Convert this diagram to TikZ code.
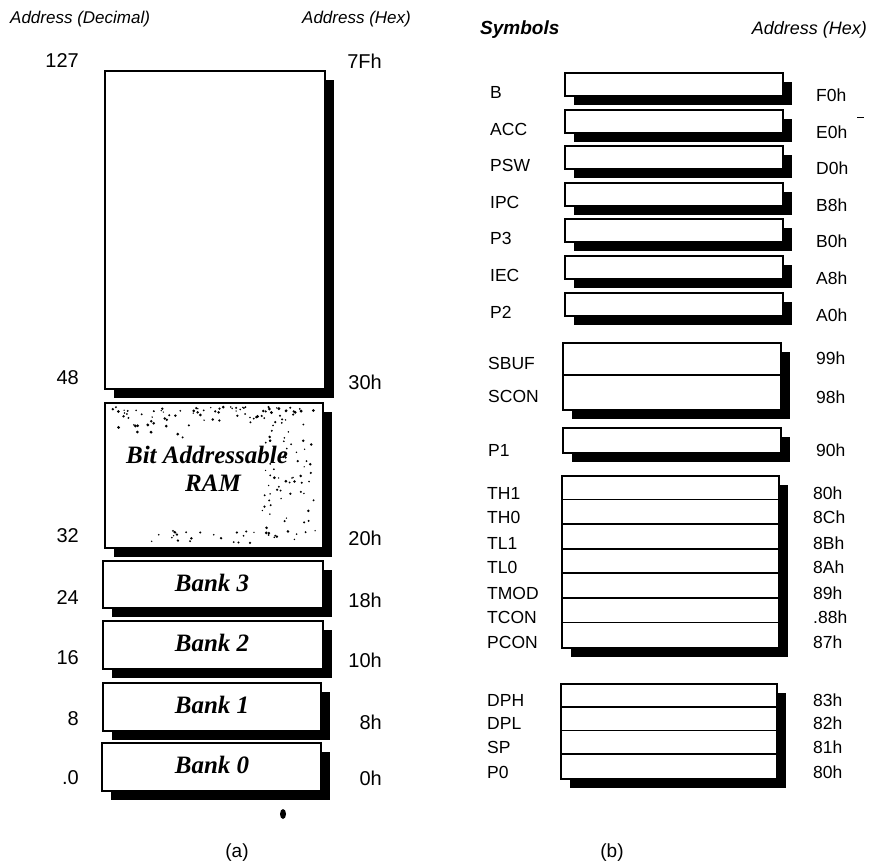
\documentclass[tikz,border=0pt]{standalone}
\usepackage{fontspec}
\setmainfont{Liberation Sans}
\newfontfamily\bankfont{Liberation Serif}
\usetikzlibrary{shadows}
\begin{document}
\begin{tikzpicture}[x=1pt,y=-1pt,
  membox/.style={draw=black, line width=1.7pt, fill=white, rectangle, inner sep=0pt, anchor=north west,
    drop shadow={shadow xshift=9pt, shadow yshift=-9pt, fill=black, opacity=1, draw=none}},
  num/.style={anchor=east, inner sep=0pt, font=\fontsize{20}{22}\selectfont},
  hexl/.style={anchor=east, inner sep=0pt, font=\fontsize{20}{22}\selectfont},
  sym/.style={anchor=west, inner sep=0pt, font=\fontsize{17.5}{19}\selectfont},
  hexr/.style={anchor=west, inner sep=0pt, font=\fontsize{17.5}{19}\selectfont},
  head/.style={inner sep=0pt, font=\fontsize{17}{19}\selectfont\itshape},
  bank/.style={inner sep=0pt, font=\bankfont\fontsize{25}{27}\selectfont\bfseries\itshape},
  divline/.style={line width=1.7pt},
  captext/.style={inner sep=0pt, font=\fontsize{19}{21}\selectfont},
  speck/.style={fill=black}
]
\useasboundingbox[fill=white] (0,0) rectangle (871,867);

% headers
\node[head, anchor=west] (hdec) at (10,19) {Address (Decimal)};
\node[head, anchor=west] (hhexl) at (302,19) {Address (Hex)};
\node[head, anchor=west, font=\fontsize{19}{21}\selectfont\itshape\bfseries] (hsym) at (480,30) {Symbols};
\node[head, anchor=east, font=\fontsize{18}{20}\selectfont\itshape] (hhexr) at (867,30) {Address (Hex)};

% ---------- (a) internal RAM ----------
\node[membox, minimum width=220, minimum height=318] (big) at (104,70) {};
\node[membox, minimum width=218, minimum height=145] (bit) at (104,402) {};
% scanned speckle inside the bit-addressable block
\pgfmathsetseed{7}
\foreach \i in {1,...,90}{
  \pgfmathsetmacro\xx{112+204*rnd}
  \pgfmathsetmacro\yy{407+34*rnd*rnd}
  \pgfmathsetmacro\rr{0.7+0.9*rnd}
  \fill[speck] (\xx,\yy) circle (\rr pt);
}
\foreach \i in {1,...,60}{
  \pgfmathsetmacro\xx{262+54*rnd}
  \pgfmathsetmacro\yy{430+112*rnd}
  \pgfmathsetmacro\rr{0.7+0.8*rnd}
  \fill[speck] (\xx,\yy) circle (\rr pt);
}
\foreach \i in {1,...,30}{
  \pgfmathsetmacro\xx{150+166*rnd}
  \pgfmathsetmacro\yy{530+13*rnd}
  \pgfmathsetmacro\rr{0.7+0.7*rnd}
  \fill[speck] (\xx,\yy) circle (\rr pt);
}
\node[bank] (bitl1) at (207,455) {Bit Addressable};
\node[bank] (bitl2) at (213,483) {RAM};

\node[membox, minimum width=220, minimum height=47] (b3) at (102,560) {};
\node[membox, minimum width=220, minimum height=48] (b2) at (102,620) {};
\node[membox, minimum width=218, minimum height=48] (b1) at (102,682) {};
\node[membox, minimum width=219, minimum height=48] (b0) at (101,742) {};
\node[bank] (b3t) at (212,583) {Bank 3};
\node[bank] (b2t) at (212,643) {Bank 2};
\node[bank] (b1t) at (212,705) {Bank 1};
\node[bank] (b0t) at (212,765) {Bank 0};
\fill[speck] (283,814) ellipse (3pt and 5pt);

\node[num] (d127) at (79,61) {127};
\node[num] (d48) at (79,378) {48};
\node[num] (d32) at (79,536) {32};
\node[num] (d24) at (79,598) {24};
\node[num] (d16) at (79,658) {16};
\node[num] (d8) at (79,719) {8};
\node[num] (d0) at (79,778) {.0};

\node[hexl] (h7f) at (382,61) {7Fh};
\node[hexl] (h30) at (382,382) {30h};
\node[hexl] (h20) at (382,538) {20h};
\node[hexl] (h18) at (382,600) {18h};
\node[hexl] (h10) at (382,660) {10h};
\node[hexl] (h8) at (382,722) {8h};
\node[hexl] (h0) at (382,778) {0h};

\node[captext] (capa) at (237,853) {(a)};

% ---------- (b) SFRs ----------
\foreach \nm/\t/\s/\h in {sB/72/B/F0h, sACC/109/ACC/E0h, sPSW/145/PSW/D0h, sIPC/182/IPC/B8h, sP3/218/P3/B0h, sIEC/255/IEC/A8h, sP2/292/P2/A0h}{
  \node[membox, minimum width=218, minimum height=23] (\nm) at (564,\t) {};
  \node[sym] (\nm l) at (490,\t+20) {\s};
  \node[hexr] (\nm h) at (816,\t+23) {\h};
}
\draw[line width=0.8pt] (857,117) -- (864,117);

\node[membox, minimum width=218, minimum height=67] (sbuf) at (562,342) {};
\draw[divline] ([yshift=-33pt]sbuf.north west) -- ([yshift=-33pt]sbuf.north east);
\node[sym] (sbufl) at (488,363) {SBUF};
\node[sym] (sconl) at (488,396) {SCON};
\node[hexr] (h99) at (816,358) {99h};
\node[hexr] (h98) at (816,397) {98h};

\node[membox, minimum width=218, minimum height=25] (p1) at (562,427) {};
\node[sym] (p1l) at (488,450) {P1};
\node[hexr] (h90) at (816,450) {90h};

\node[membox, minimum width=217, minimum height=172] (tm) at (561,475) {};
\foreach \i in {1,...,6}{
  \draw[divline] ([yshift=-\i*24.57pt]tm.north west) -- ([yshift=-\i*24.57pt]tm.north east);
}
\foreach \nm/\y/\s/\h in {th1/493/TH1/80h, th0/517/TH0/8Ch, tl1/543/TL1/8Bh, tl0/567/TL0/8Ah, tmod/593/TMOD/89h, tcon/617/TCON/.88h, pcon/642/PCON/87h}{
  \node[sym] (\nm l) at (487,\y) {\s};
  \node[hexr] (\nm h) at (813,\y) {\h};
}

\node[membox, minimum width=216, minimum height=95] (dp) at (560,683) {};
\foreach \i in {1,2,3}{
  \draw[divline] ([yshift=-\i*23.75pt]dp.north west) -- ([yshift=-\i*23.75pt]dp.north east);
}
\foreach \nm/\y/\s/\h in {dph/700/DPH/83h, dpl/723/DPL/82h, sp/747/SP/81h, p0/772/P0/80h}{
  \node[sym] (\nm l) at (487,\y) {\s};
  \node[hexr] (\nm h) at (813,\y) {\h};
}

\node[captext] (capb) at (612,853) {(b)};
\end{tikzpicture}
\end{document}
